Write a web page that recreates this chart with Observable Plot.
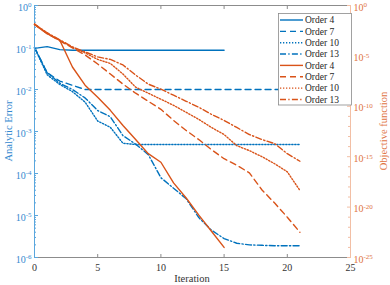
<!DOCTYPE html>
<html><head><meta charset="utf-8">
<script src="https://cdn.jsdelivr.net/npm/d3@7"></script>
<script src="https://cdn.jsdelivr.net/npm/@observablehq/plot@0.6"></script>
<style>
body{margin:0;background:#fff;}
#chart{position:relative;width:390px;height:285px;font-family:"Liberation Serif",serif;}
#chart svg{position:absolute;left:0;top:0;background:transparent;}
</style></head><body><div id="chart"></div>
<script>
// ---- data (log10 of the plotted values) ----
const iterations = [0,1,2,3,4,5,6,7,8,9,10,11,12,13,14,15,16,17,18,19,20,21];
const orderNames = ["Order 4","Order 7","Order 10","Order 13"];
// Analytic error (left axis)
const errOrder4  = [-1.02,-0.98,-1.05,-1.064,-1.064,-1.064,-1.064,-1.064,-1.064,-1.064,-1.064,-1.064,-1.064,-1.064,-1.064,-1.064];
const errOrder7  = [-1.0,-1.6,-1.8,-1.9,-2.0,-2.0,-2.0,-2.0,-2.0,-2.0,-2.0,-2.0,-2.0,-2.0,-2.0,-2.0,-2.0,-2.0,-2.0,-2.0,-2.0,-2.0];
const errOrder10 = [-1.0,-1.65,-1.88,-2.05,-2.3,-2.75,-2.9,-3.28,-3.31,-3.31,-3.31,-3.31,-3.31,-3.31,-3.31,-3.31,-3.31,-3.31,-3.31,-3.31,-3.31,-3.31];
const errOrder13 = [-1.0,-1.6,-1.85,-2.0,-2.2,-2.5,-2.65,-3.1,-3.3,-3.55,-4.1,-4.35,-4.6,-5.05,-5.35,-5.55,-5.66,-5.70,-5.71,-5.72,-5.72,-5.72];
// Objective function (right axis)
const objOrder4  = [-1.9,-2.8,-3.45,-6.1,-7.9,-9.1,-10.4,-11.9,-13.3,-14.7,-15.55,-17.6,-19.1,-20.8,-22.4,-24.0];
const objOrder7  = [-1.85,-2.8,-3.5,-4.2,-4.9,-5.8,-6.8,-7.8,-8.7,-9.5,-10.3,-11.4,-12.4,-13.3,-14.3,-15.2,-15.85,-16.6,-18.3,-19.6,-21.0,-22.5];
const objOrder10 = [-1.85,-2.75,-3.45,-4.15,-4.7,-5.35,-5.75,-6.8,-8.1,-8.7,-9.3,-9.9,-10.6,-11.3,-12.1,-12.8,-13.9,-14.4,-15.0,-15.7,-16.5,-18.35];
const objOrder13 = [-1.85,-2.7,-3.4,-4.1,-4.6,-5.1,-5.35,-5.9,-6.9,-7.8,-8.3,-8.9,-9.5,-10.1,-10.8,-11.4,-12.1,-12.8,-13.3,-13.7,-14.7,-15.45];
// ticks
const xTicks = [0,5,10,15,20,25];
const leftExp = [-6,-5,-4,-3,-2,-1,0];
const rightExp = [-25,-20,-15,-10,-5,0];

// ---- styles ----
const blue = "#0072BD", orange = "#D95319";
const blueAxis = "#5aa6dd", blueText = "#3389cf";
const orangeAxis = "#f2bfa5", orangeText = "#e0733f";
const dashes = [null, "6,4", "1.3,1.7", "6,2.3,1.3,2.3"];
const errSeries = [errOrder4, errOrder7, errOrder10, errOrder13];
const objSeries = [objOrder4, objOrder7, objOrder10, objOrder13];
const rows = vals => vals.map((v, i) => ({x: iterations[i], y: 10 ** v}));

const leftMajor = leftExp.map(e => 10 ** e);
const leftMinor = leftExp.slice(0, -1).flatMap(e => [2,3,4,5,6,7,8,9].map(m => m * 10 ** e));
const rightMajor = rightExp.map(e => 10 ** e);
const rightMinor = d3.range(-24, 0).filter(e => e % 5 !== 0).map(e => 10 ** e);
const fmtPow = d => "10^" + Math.round(Math.log10(d));

const W = 390, H = 285, mL = 34, mR = 40, mT = 5, mB = 28;
const common = {
  width: W, height: H, marginLeft: mL, marginRight: mR, marginTop: mT, marginBottom: mB,
  style: {background: "transparent", fontFamily: "Liberation Serif", fontSize: "10px", overflow: "visible"}
};

const plotA = Plot.plot({
  ...common,
  x: {domain: [0, 25]},
  y: {type: "log", domain: [1e-6, 1]},
  marks: [
    ...errSeries.map((s, i) => Plot.line(rows(s), {x: "x", y: "y", stroke: blue, strokeWidth: 1.4, strokeDasharray: dashes[i]})),
    Plot.ruleY([1], {stroke: "#8c8c8c"}),
    Plot.ruleY([1e-6], {stroke: "#8c8c8c"}),
    Plot.axisX(xTicks, {anchor: "top", tickSize: -3, tickFormat: () => "", stroke: "#8c8c8c", label: null}),
    Plot.axisX(xTicks, {anchor: "bottom", tickSize: -3, tickPadding: 9, stroke: "#8c8c8c", fill: "#333", label: null}),
    Plot.axisY(leftMinor, {anchor: "left", tickSize: -2, tickFormat: () => "", stroke: blueAxis, label: null}),
    Plot.axisY(leftMajor, {anchor: "left", tickSize: -4, tickPadding: 7, tickFormat: fmtPow, stroke: blueAxis, fill: blueText, label: null}),
    Plot.ruleX([0], {stroke: blueAxis})
  ]
});

const plotB = Plot.plot({
  ...common,
  x: {domain: [0, 25], axis: null},
  y: {type: "log", domain: [1e-25, 1]},
  marks: [
    ...objSeries.map((s, i) => Plot.line(rows(s), {x: "x", y: "y", stroke: orange, strokeWidth: 1.4, strokeDasharray: dashes[i]})),
    Plot.axisY(rightMinor, {anchor: "right", tickSize: -3, tickFormat: () => "", stroke: orangeAxis, label: null}),
    Plot.axisY(rightMajor, {anchor: "right", tickSize: -4, tickPadding: 7, tickFormat: fmtPow, stroke: orangeAxis, fill: orangeText, label: null}),
    Plot.ruleX([25], {stroke: orangeAxis})
  ]
});

function superscripts(svg) {
  d3.select(svg).selectAll("text").each(function () {
    const m = /^10\^(-?\d+)$/.exec(this.textContent);
    if (!m) return;
    this.textContent = "10";
    d3.select(this).attr("dy", "0.18em")
      .append("tspan").attr("dy", "-0.45em").attr("font-size", "7px").text(m[1]);
  });
}
superscripts(plotA); superscripts(plotB);

// axis titles
d3.select(plotA).append("text").attr("x", (mL + W - mR) / 2).attr("y", 282)
  .attr("text-anchor", "middle").attr("fill", "#333").attr("font-size", "10.5px").text("Iteration");
d3.select(plotA).append("text").attr("transform", `translate(11.5,${(mT + H - mB) / 2}) rotate(-90)`)
  .attr("text-anchor", "middle").attr("fill", blueText).attr("font-size", "10.5px").text("Analytic Error");
d3.select(plotB).append("text").attr("transform", `translate(386.5,${(mT + H - mB) / 2}) rotate(-90)`)
  .attr("text-anchor", "middle").attr("fill", orangeText).attr("font-size", "10.5px").text("Objective function");

// legend
const lg = d3.select(plotB).append("g").attr("font-size", "9.5px").attr("text-anchor", "start");
lg.append("rect").attr("x", 278.5).attr("y", 13.5).attr("width", 73).attr("height", 91.5)
  .attr("fill", "white").attr("stroke", "#8a8a8a").attr("stroke-width", 0.8);
const entries = [
  ...orderNames.map((n, i) => ({name: n, color: blue, dash: dashes[i]})),
  ...orderNames.map((n, i) => ({name: n, color: orange, dash: dashes[i]}))
];
entries.forEach((e, i) => {
  const y = 20 + i * 11.35;
  lg.append("line").attr("x1", 280).attr("x2", 303).attr("y1", y).attr("y2", y)
    .attr("stroke", e.color).attr("stroke-width", 1.4).attr("stroke-dasharray", e.dash);
  lg.append("text").attr("x", 305).attr("y", y + 3.3).attr("text-anchor", "start").attr("fill", "#262626").text(e.name);
});

const chart = document.getElementById("chart");
chart.appendChild(plotA);
chart.appendChild(plotB);
</script></body></html>
